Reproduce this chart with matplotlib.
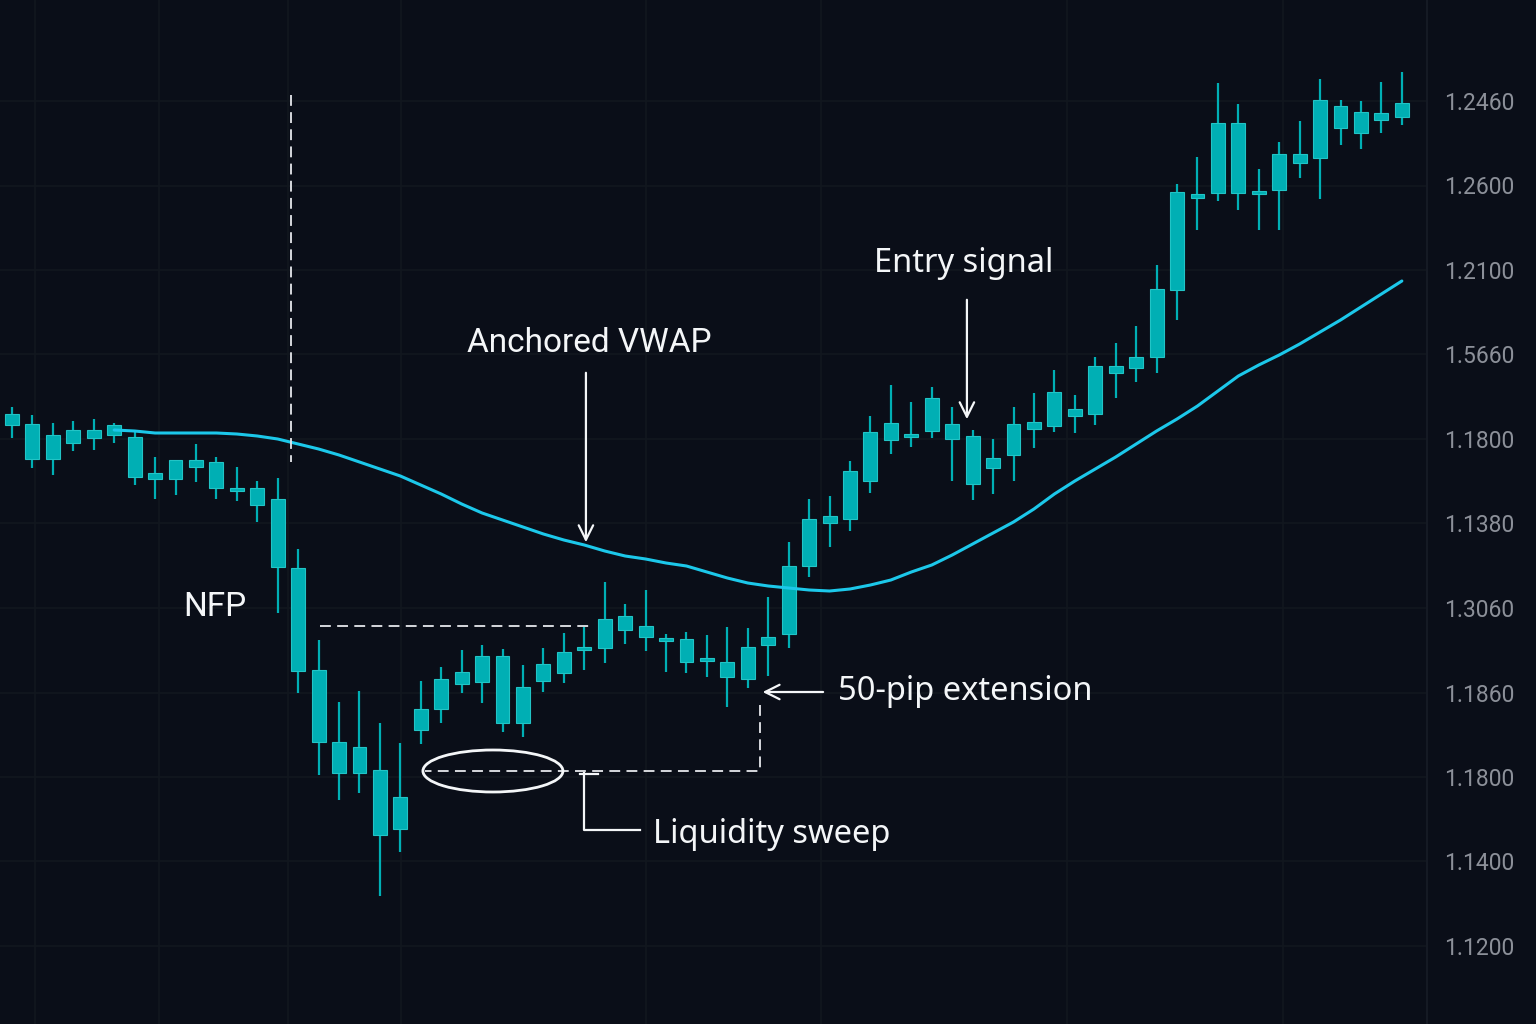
import numpy as np
import matplotlib.pyplot as plt
from matplotlib.patches import Ellipse

# candle data (one bar per session)
opens = [1.1586, 1.1576, 1.1565, 1.1557, 1.1562, 1.1565, 1.1563, 1.1527, 1.1521, 1.1533,
         1.1538, 1.1511, 1.1512, 1.1501, 1.1432, 1.1330, 1.1258, 1.1227, 1.1230, 1.1171,
         1.1270, 1.1291, 1.1316, 1.1318, 1.1344, 1.1277, 1.1319, 1.1327, 1.1350, 1.1352,
         1.1384, 1.1374, 1.1361, 1.1361, 1.1341, 1.1338, 1.1321, 1.1355, 1.1366, 1.1434,
         1.1477, 1.1481, 1.1519, 1.1560, 1.1565, 1.1569, 1.1576, 1.1564, 1.1532, 1.1545,
         1.1571, 1.1574, 1.1591, 1.1586, 1.1627, 1.1632, 1.1643, 1.1710, 1.1806, 1.1807,
         1.1877, 1.1806, 1.1810, 1.1837, 1.1842, 1.1894, 1.1867, 1.1880, 1.1883]
closes = [1.1575, 1.1541, 1.1541, 1.1570, 1.1570, 1.1575, 1.1523, 1.1521, 1.1540, 1.1540,
          1.1512, 1.1509, 1.1495, 1.1433, 1.1329, 1.1258, 1.1227, 1.1253, 1.1165, 1.1203,
          1.1291, 1.1321, 1.1328, 1.1344, 1.1277, 1.1313, 1.1336, 1.1348, 1.1352, 1.1381,
          1.1370, 1.1363, 1.1359, 1.1338, 1.1339, 1.1323, 1.1353, 1.1363, 1.1434, 1.1481,
          1.1484, 1.1529, 1.1568, 1.1577, 1.1563, 1.1602, 1.1561, 1.1516, 1.1542, 1.1576,
          1.1578, 1.1608, 1.1584, 1.1634, 1.1634, 1.1643, 1.1711, 1.1808, 1.1802, 1.1877,
          1.1807, 1.1808, 1.1846, 1.1846, 1.1900, 1.1872, 1.1888, 1.1887, 1.1897]
highs = [1.1593, 1.1585, 1.1577, 1.1579, 1.1581, 1.1577, 1.1570, 1.1543, 1.1540, 1.1556,
         1.1543, 1.1533, 1.1519, 1.1522, 1.1451, 1.1360, 1.1298, 1.1309, 1.1277, 1.1257,
         1.1319, 1.1333, 1.1350, 1.1355, 1.1351, 1.1335, 1.1352, 1.1367, 1.1373, 1.1418,
         1.1396, 1.1410, 1.1366, 1.1368, 1.1365, 1.1373, 1.1372, 1.1403, 1.1458, 1.1501,
         1.1504, 1.1539, 1.1584, 1.1615, 1.1598, 1.1613, 1.1593, 1.1570, 1.1561, 1.1593,
         1.1607, 1.1630, 1.1605, 1.1643, 1.1657, 1.1674, 1.1735, 1.1816, 1.1843, 1.1917,
         1.1896, 1.1831, 1.1858, 1.1879, 1.1921, 1.1900, 1.1899, 1.1918, 1.1928]
lows = [1.1562, 1.1532, 1.1525, 1.1549, 1.1550, 1.1557, 1.1515, 1.1501, 1.1505, 1.1518,
        1.1501, 1.1499, 1.1478, 1.1387, 1.1307, 1.1225, 1.1200, 1.1207, 1.1104, 1.1148,
        1.1256, 1.1277, 1.1307, 1.1297, 1.1268, 1.1263, 1.1308, 1.1317, 1.1330, 1.1337,
        1.1356, 1.1349, 1.1328, 1.1327, 1.1323, 1.1293, 1.1312, 1.1324, 1.1352, 1.1423,
        1.1453, 1.1469, 1.1507, 1.1546, 1.1553, 1.1562, 1.1519, 1.1500, 1.1506, 1.1519,
        1.1552, 1.1568, 1.1567, 1.1575, 1.1602, 1.1618, 1.1627, 1.1680, 1.1770, 1.1799,
        1.1790, 1.1770, 1.1770, 1.1822, 1.1801, 1.1855, 1.1851, 1.1867, 1.1875]

# anchored VWAP, starts at bar 5
vwap_start = 5
vwap = [1.1570, 1.1569, 1.1567, 1.1567, 1.1567, 1.1567, 1.1566, 1.1564, 1.1561, 1.1556,
        1.1551, 1.1545, 1.1538, 1.1531, 1.1524, 1.1515, 1.1506, 1.1496, 1.1487, 1.1480,
        1.1473, 1.1466, 1.1460, 1.1455, 1.1449, 1.1444, 1.1441, 1.1437, 1.1434, 1.1428,
        1.1422, 1.1417, 1.1414, 1.1412, 1.1410, 1.1409, 1.1411, 1.1415, 1.1420, 1.1428,
        1.1435, 1.1445, 1.1456, 1.1467, 1.1478, 1.1491, 1.1506, 1.1519, 1.1531, 1.1543,
        1.1556, 1.1569, 1.1581, 1.1594, 1.1609, 1.1624, 1.1635, 1.1645, 1.1656, 1.1668,
        1.1680, 1.1693, 1.1706, 1.1719]

# axis labels as printed on the chart (bottom to top)
price_labels = ["1.1200", "1.1400", "1.1800", "1.1860", "1.3060", "1.1380",
                "1.1800", "1.5660", "1.2100", "1.2600", "1.2460"]

BG = "#0a0e18"
GRID = "#12171f"
CANDLE = "#00afb4"
CANDLE_EDGE = "#22c4c6"
VWAP_COL = "#1cc8ea"
TXT = "#f4f6f8"

fig = plt.figure(figsize=(15.36, 10.24), dpi=100, facecolor=BG)
ax = fig.add_axes([0, 0, 1427 / 1536, 1])
ax.set_facecolor(BG)

x = np.arange(len(opens))
o = np.array(opens)
c = np.array(closes)
bottom = np.minimum(o, c)
height = np.maximum(np.abs(c - o), 0.0003)

# grid
for gx in [1.13, 7.19, 13.5, 19.03, 31.02, 39.58, 51.61, 62.18]:
    ax.axvline(gx, color=GRID, lw=1.2, zorder=0)
tick_pos = np.linspace(1.1054, 1.1899, 11)
for ty in tick_pos:
    ax.axhline(ty, color=GRID, lw=1.2, zorder=0)

ax.vlines(x, lows, highs, color=CANDLE, lw=1.6, zorder=2)
ax.bar(x, height, bottom=bottom, width=0.68, color=CANDLE,
       edgecolor=CANDLE_EDGE, linewidth=0.8, zorder=3)

vx = np.arange(vwap_start, vwap_start + len(vwap))
ax.plot(vx, vwap, color=VWAP_COL, lw=2.2, zorder=4, solid_capstyle="round")

# annotations
dash = dict(color="#e6e8ec", lw=1.3, ls=(0, (6, 3.5)), zorder=5)
ax.plot([13.65, 13.65], [1.1905, 1.1538], **dash)
ax.text(9.93, 1.1393, "NFP", color=TXT, fontsize=24, family="Roboto",
        ha="center", va="center")
ax.plot([15.07, 28.28], [1.1374, 1.1374], **dash)

arrow = dict(arrowstyle="->", color=TXT, lw=1.6, mutation_scale=26)
ax.annotate("", xy=(28.08, 1.1455), xytext=(28.08, 1.1630), arrowprops=arrow, zorder=6)
ax.text(28.23, 1.1657, "Anchored VWAP", color=TXT, fontsize=24, family="Roboto",
        ha="center", va="center")

ax.annotate("", xy=(46.72, 1.1578), xytext=(46.72, 1.1703), arrowprops=arrow, zorder=6)
ax.text(46.58, 1.1736, "Entry signal", color=TXT, fontsize=23.5, family="Noto Sans",
        weight=600, ha="center", va="center")

ax.annotate("", xy=(36.59, 1.1308), xytext=(39.82, 1.1308), arrowprops=arrow, zorder=6)
ax.text(40.41, 1.1308, "50-pip extension", color=TXT, fontsize=23.5, family="Noto Sans",
        weight=600, ha="left", va="center")
ax.plot([36.59, 36.59, 20.21], [1.1295, 1.1229, 1.1229], **dash)

ax.add_patch(Ellipse((23.53, 1.1229), 6.85, 0.0042, fill=False, ec=TXT, lw=2, zorder=6))
ax.plot([27.98, 27.98, 30.72], [1.1227, 1.1170, 1.1170], color=TXT, lw=1.6, zorder=6)
ax.plot([27.79, 28.67], [1.1226, 1.1226], color=TXT, lw=1.6, zorder=6)
ax.text(31.36, 1.1165, "Liquidity sweep", color=TXT, fontsize=23.5, family="Noto Sans",
        weight=600, ha="left", va="center")

ax.set_xlim(-0.587, 69.23)
ax.set_ylim(1.0976, 1.2)
ax.set_xticks([])
ax.yaxis.tick_right()
ax.set_yticks(tick_pos)
ax.set_yticklabels(price_labels, family="Roboto", fontsize=16.5, color="#8c9099")
ax.tick_params(axis="y", length=0, pad=12)
for s in ["top", "bottom", "left"]:
    ax.spines[s].set_visible(False)
ax.spines["right"].set_color("#151a24")
ax.spines["right"].set_linewidth(1.5)

fig.savefig("out.png", dpi=100, facecolor=BG)
